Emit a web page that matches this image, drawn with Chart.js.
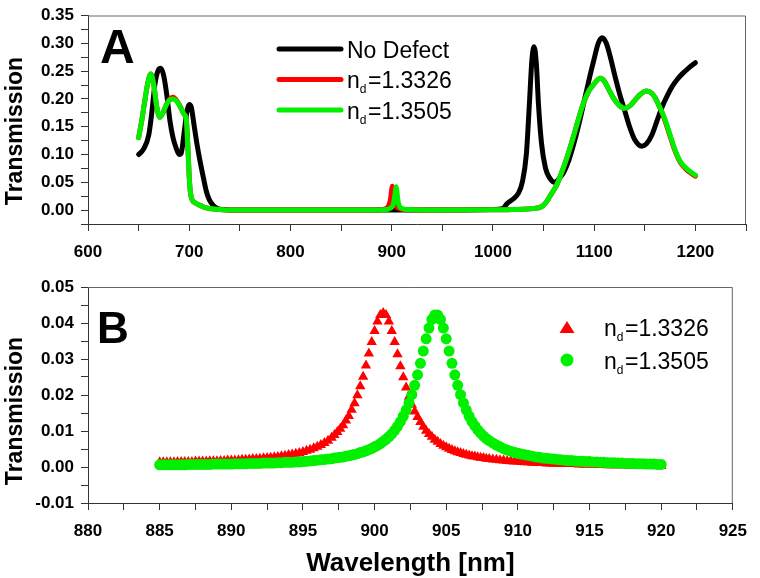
<!DOCTYPE html>
<html>
<head>
<meta charset="utf-8">
<script src="https://cdn.jsdelivr.net/npm/chart.js@4.4.1/dist/chart.umd.min.js"></script>
<style>
  body { margin: 0; background: #fff; }
  .panel { position: absolute; left: 0; width: 760px; }
  #wrapA { top: 0; height: 270px; }
  #wrapB { top: 270px; height: 308px; }
</style>
</head>
<body>
<div class="panel" id="wrapA"><canvas id="chartA"></canvas></div>
<div class="panel" id="wrapB"><canvas id="chartB"></canvas></div>
<script>
// ---- panel A: full spectra ----
const noDefectX = [650,655,660,663,666,669,672,675,678,681,684,687,690,692,695,698,700,702,705,708,711,714,717,720,724,728,735,745,800,900,950,1000,1010,1014,1020,1025,1029,1033,1036,1038.5,1040.7,1043,1045,1048,1052,1056,1061,1066,1070,1075,1080,1085,1090,1095,1100,1104,1108,1112,1116,1120,1125,1130,1135,1140,1147,1152,1157,1162,1167,1172,1177,1182,1187,1193,1200];
const noDefectY = [0.100,0.110,0.135,0.175,0.225,0.250,0.255,0.240,0.205,0.160,0.130,0.112,0.100,0.102,0.140,0.180,0.190,0.185,0.150,0.115,0.085,0.058,0.033,0.018,0.008,0.003,0.001,0,0,0,0,0.001,0.003,0.012,0.020,0.030,0.050,0.100,0.190,0.270,0.294,0.260,0.190,0.120,0.075,0.058,0.050,0.058,0.068,0.090,0.120,0.155,0.195,0.235,0.272,0.300,0.310,0.300,0.275,0.245,0.210,0.180,0.150,0.127,0.115,0.120,0.135,0.160,0.185,0.205,0.222,0.235,0.245,0.255,0.265];

const nd13326X = [650,653,656,659,662,665,668,671,674,677,680,684,688,692,695,697,698.5,700,701,702.5,706,710,715,720,730,740,800,880,890,896,898,899,899.8,900.6,901.3,902,903,904.5,906,909,915,930,1000,1020,1040,1048,1053,1058,1063,1070,1075,1080,1086,1090,1095,1099,1106,1110,1115,1119,1125,1130,1135,1140,1145,1152,1157,1160,1164,1169,1175,1180,1185,1190,1195,1200];
const nd13326Y = [0.130,0.160,0.195,0.228,0.245,0.225,0.185,0.167,0.175,0.188,0.198,0.203,0.196,0.183,0.172,0.165,0.120,0.060,0.035,0.020,0.013,0.009,0.005,0.003,0.001,0,0,0,0.001,0.005,0.013,0.022,0.034,0.043,0.036,0.025,0.014,0.007,0.004,0.002,0.0007,0,0.0005,0.001,0.003,0.006,0.015,0.030,0.045,0.078,0.105,0.135,0.173,0.195,0.215,0.225,0.237,0.232,0.215,0.202,0.188,0.183,0.187,0.197,0.207,0.214,0.210,0.203,0.188,0.166,0.133,0.106,0.086,0.075,0.067,0.061];

const nd13505X = [650,653,656,659,662,665,668,671,674,677,680,684,688,692,695,697,698.5,700,701,702.5,706,710,715,720,730,740,800,880,895,898,900,901,902,903,903.7,904.3,905,905.6,906.3,907,908,910,913,920,950,1000,1020,1040,1048,1053,1058,1063,1070,1075,1080,1086,1090,1095,1099,1106,1110,1115,1119,1125,1130,1135,1140,1145,1152,1157,1160,1164,1169,1175,1180,1185,1190,1195,1200];
const nd13505Y = [0.130,0.160,0.195,0.228,0.245,0.225,0.185,0.167,0.175,0.188,0.197,0.200,0.195,0.183,0.172,0.165,0.120,0.060,0.035,0.020,0.013,0.009,0.005,0.003,0.001,0,0,0,0.001,0.003,0.005,0.008,0.014,0.025,0.035,0.042,0.036,0.026,0.016,0.010,0.006,0.003,0.0015,0.0005,0,0.0005,0.001,0.003,0.006,0.015,0.030,0.045,0.078,0.105,0.135,0.173,0.195,0.215,0.225,0.237,0.232,0.215,0.202,0.188,0.183,0.187,0.197,0.207,0.214,0.210,0.203,0.188,0.168,0.135,0.108,0.088,0.077,0.069,0.063];

// ---- panel B: zoom on the defect mode ----
const wavelengthB = [
  885,885.25,885.5,885.75,886,886.25,886.5,886.75,887,887.25,887.5,887.75,888,888.25,888.5,888.75,
  889,889.25,889.5,889.75,890,890.25,890.5,890.75,891,891.25,891.5,891.75,892,892.25,892.5,892.75,
  893,893.25,893.5,893.75,894,894.25,894.5,894.75,895,895.25,895.5,895.75,896,896.25,896.5,896.75,897,
  897.2,897.4,897.6,897.8,898,898.2,898.4,898.6,898.8,899,899.2,899.4,899.6,899.8,
  900,900.2,900.4,900.6,900.8,901,901.2,901.4,901.6,901.8,
  902,902.2,902.4,902.6,902.8,903,903.2,903.4,903.6,903.8,
  904,904.2,904.4,904.6,904.8,905,905.2,905.4,905.6,905.8,
  906,906.2,906.4,906.6,906.8,907,907.2,907.4,907.6,907.8,908,
  908.25,908.5,908.75,909,909.25,909.5,909.75,910,910.25,910.5,910.75,911,911.25,911.5,911.75,
  912,912.25,912.5,912.75,913,913.25,913.5,913.75,914,914.25,914.5,914.75,915,915.25,915.5,915.75,
  916,916.25,916.5,916.75,917,917.25,917.5,917.75,918,918.25,918.5,918.75,919,919.25,919.5,919.75,920];
const transB13326 = [
  0.0013,0.0013,0.0013,0.0013,0.0013,0.0014,0.0014,0.0014,0.0014,0.0014,0.0015,0.0015,0.0015,0.0015,0.0016,0.0016,
  0.0016,0.0017,0.0017,0.0018,0.0018,0.0018,0.0019,0.0020,0.0020,0.0021,0.0022,0.0022,0.0023,0.0024,0.0025,0.0026,
  0.0027,0.0028,0.0030,0.0031,0.0033,0.0035,0.0037,0.0039,0.0042,0.0045,0.0048,0.0052,0.0056,0.0061,0.0067,0.0073,0.0081,
  0.0089,0.0097,0.0106,0.0116,0.0129,0.0142,0.0159,0.0177,0.0199,0.0224,0.0251,0.0282,0.0315,0.0347,
  0.0378,0.0404,0.0422,0.0428,0.0422,0.0404,0.0378,0.0347,0.0313,0.0280,
  0.0249,0.0221,0.0195,0.0173,0.0154,0.0139,0.0125,0.0112,0.0101,0.0092,
  0.0084,0.0076,0.0070,0.0064,0.0059,0.0055,0.0051,0.0047,0.0044,0.0041,
  0.0039,0.0036,0.0034,0.0032,0.0030,0.0029,0.0027,0.0026,0.0025,0.0023,0.0022,
  0.0021,0.0020,0.0019,0.0018,0.0017,0.0016,0.0015,0.0015,0.0014,0.0013,0.0013,0.0012,0.0012,0.0011,0.0011,
  0.0010,0.0010,0.0009,0.0009,0.0009,0.0008,0.0008,0.0008,0.0008,0.0007,0.0007,0.0007,0.0007,0.0006,0.0006,0.0006,
  0.0006,0.0005,0.0005,0.0005,0.0005,0.0005,0.0005,0.0004,0.0004,0.0004,0.0004,0.0004,0.0004,0.0003,0.0003,0.0003,0.0003];
const transB13505 = [
  0.0006,0.0006,0.0006,0.0006,0.0006,0.0006,0.0006,0.0006,0.0007,0.0007,0.0007,0.0007,0.0007,0.0007,0.0007,0.0008,
  0.0008,0.0008,0.0008,0.0008,0.0008,0.0009,0.0009,0.0009,0.0009,0.0010,0.0010,0.0010,0.0010,0.0011,0.0011,0.0011,
  0.0011,0.0012,0.0012,0.0013,0.0013,0.0013,0.0014,0.0014,0.0015,0.0016,0.0017,0.0018,0.0019,0.0020,0.0021,0.0022,0.0023,
  0.0025,0.0026,0.0027,0.0028,0.0030,0.0031,0.0033,0.0035,0.0037,0.0040,0.0042,0.0045,0.0048,0.0052,
  0.0056,0.0060,0.0065,0.0071,0.0077,0.0084,0.0092,0.0102,0.0113,0.0126,
  0.0141,0.0158,0.0178,0.0201,0.0227,0.0256,0.0288,0.0322,0.0356,0.0386,
  0.0410,0.0422,0.0422,0.0410,0.0386,0.0356,0.0322,0.0288,0.0256,0.0227,
  0.0201,0.0178,0.0158,0.0141,0.0126,0.0114,0.0103,0.0094,0.0086,0.0079,0.0073,
  0.0067,0.0061,0.0056,0.0051,0.0047,0.0044,0.0041,0.0038,0.0036,0.0034,0.0032,0.0030,0.0028,0.0027,0.0025,
  0.0024,0.0023,0.0022,0.0021,0.0020,0.0019,0.0018,0.0018,0.0017,0.0016,0.0016,0.0015,0.0015,0.0014,0.0014,0.0013,
  0.0013,0.0012,0.0012,0.0012,0.0011,0.0011,0.0010,0.0010,0.0010,0.0009,0.0009,0.0009,0.0008,0.0008,0.0008,0.0007,0.0007];

const FONT = 'Arial, "Liberation Sans", sans-serif';
const RED = '#ff0000';
const GREEN = '#00f000';

const pts = (xs, ys) => xs.map((x, i) => ({x: x, y: ys[i]}));
const isMajor = (v, step) => Math.abs(v / step - Math.round(v / step)) < 1e-6;

// draws "n_d=1.3326" with the d as subscript
function drawLabel(ctx, text, x, y) {
  ctx.font = '23px ' + FONT;
  const parts = text.split('_');
  ctx.fillText(parts[0], x, y);
  x += ctx.measureText(parts[0]).width;
  if (parts.length > 1) {
    ctx.font = '12px ' + FONT;
    const sub = parts[1].charAt(0);
    ctx.fillText(sub, x, y + 5);
    x += ctx.measureText(sub).width + 1.5;
    ctx.font = '23px ' + FONT;
    ctx.fillText(parts[1].slice(1), x, y);
  }
}

const decor = {
  id: 'decor',
  afterDraw(chart, args, o) {
    const ctx = chart.ctx;
    const a = chart.chartArea;
    ctx.save();
    // box: top and right edges
    ctx.strokeStyle = '#666';
    ctx.lineWidth = 1;
    ctx.beginPath();
    ctx.moveTo(a.left, a.top + 0.5);
    ctx.lineTo(a.right - 0.5, a.top + 0.5);
    ctx.lineTo(a.right - 0.5, a.bottom);
    ctx.stroke();

    ctx.fillStyle = '#000';
    ctx.textBaseline = 'alphabetic';
    ctx.textAlign = 'left';
    ctx.font = 'bold ' + o.letterSize + 'px ' + FONT;
    ctx.fillText(o.letter, o.letterX, o.letterY);

    // y title
    ctx.save();
    ctx.translate(16, o.yTitleY);
    ctx.rotate(-Math.PI / 2);
    ctx.textAlign = 'center';
    ctx.textBaseline = 'middle';
    ctx.font = 'bold 23px ' + FONT;
    ctx.fillText('Transmission', 0, 0);
    ctx.restore();

    // x title
    if (o.xTitle) {
      ctx.textAlign = 'center';
      ctx.font = 'bold 26px ' + FONT;
      ctx.fillText(o.xTitle, (a.left + a.right) / 2, o.xTitleY);
      ctx.textAlign = 'left';
    }

    // legend
    chart.data.datasets.forEach((ds, i) => {
      const y = o.legY + i * o.legGap;
      if (o.legSymbol) {
        ctx.fillStyle = ds.backgroundColor;
        ctx.beginPath();
        if (ds.pointStyle === 'triangle') {
          ctx.moveTo(o.legX, y - 6);
          ctx.lineTo(o.legX + 7.5, y + 6);
          ctx.lineTo(o.legX - 7.5, y + 6);
          ctx.closePath();
        } else {
          ctx.arc(o.legX, y, 6.5, 0, Math.PI * 2);
        }
        ctx.fill();
      } else {
        ctx.strokeStyle = ds.borderColor;
        ctx.lineWidth = 5;
        ctx.lineCap = 'round';
        ctx.beginPath();
        ctx.moveTo(o.legX, y);
        ctx.lineTo(o.legX + 62, y);
        ctx.stroke();
      }
      ctx.fillStyle = '#000';
      drawLabel(ctx, ds.label, o.textX, y + o.textDy);
    });
    ctx.restore();
  }
};

function axisOpts(min, max, step, major, fmt, isY, width) {
  return {
    type: 'linear',
    min: min,
    max: max,
    afterFit(scale) {
      if (isY) scale.width = 88; else scale.height = width;
    },
    ticks: {
      stepSize: step,
      autoSkip: false,
      maxRotation: 0,
      padding: isY ? 7 : 13,
      color: '#000',
      font: {family: FONT, size: 17, weight: 'bold', lineHeight: 1},
      callback: v => isMajor(v, major) ? fmt(v) : ''
    },
    grid: {drawOnChartArea: false, drawTicks: true, tickLength: 7, tickColor: '#333', tickWidth: 1},
    border: {display: true, color: '#333', width: 1}
  };
}

const lineStyle = {pointRadius: 0, borderWidth: 5, cubicInterpolationMode: 'monotone', borderCapStyle: 'round', borderJoinStyle: 'round', fill: false};

new Chart(document.getElementById('chartA'), {
  type: 'line',
  data: {
    datasets: [
      Object.assign({label: 'No Defect', data: pts(noDefectX, noDefectY), borderColor: '#000', backgroundColor: '#000', order: 2}, lineStyle),
      Object.assign({label: 'n_d=1.3326', data: pts(nd13326X, nd13326Y), borderColor: RED, backgroundColor: RED, order: 1}, lineStyle),
      Object.assign({label: 'n_d=1.3505', data: pts(nd13505X, nd13505Y), borderColor: GREEN, backgroundColor: GREEN, order: 0}, lineStyle)
    ]
  },
  options: {
    responsive: true,
    maintainAspectRatio: false,
    animation: false,
    events: [],
    layout: {padding: {top: 8, right: 14, left: 0, bottom: 0}},
    scales: {
      x: axisOpts(600, 1250, 50, 100, v => String(v), false, 46),
      y: axisOpts(-0.025, 0.35, 0.025, 0.05, v => v.toFixed(2), true)
    },
    plugins: {
      legend: {display: false},
      tooltip: {enabled: false},
      decor: {letter: 'A', letterSize: 48, letterX: 100, letterY: 63, yTitleY: 131,
        legX: 279, legY: 49, legGap: 30.5, textX: 347, textDy: 8.5, legSymbol: false}
    }
  },
  plugins: [decor]
});

new Chart(document.getElementById('chartB'), {
  type: 'scatter',
  data: {
    datasets: [
      {label: 'n_d=1.3326', data: pts(wavelengthB, transB13326), pointStyle: 'triangle', pointRadius: 6,
        backgroundColor: RED, borderColor: RED, borderWidth: 0, order: 1},
      {label: 'n_d=1.3505', data: pts(wavelengthB, transB13505), pointStyle: 'circle', pointRadius: 5.5,
        backgroundColor: GREEN, borderColor: GREEN, borderWidth: 0, order: 0}
    ]
  },
  options: {
    responsive: true,
    maintainAspectRatio: false,
    animation: false,
    events: [],
    layout: {padding: {top: 17, right: 14, left: 0, bottom: 0}},
    scales: {
      x: axisOpts(880, 925, 2.5, 5, v => String(v), false, 75),
      y: axisOpts(-0.01, 0.05, 0.005, 0.01, v => v.toFixed(2), true)
    },
    plugins: {
      legend: {display: false},
      tooltip: {enabled: false},
      decor: {letter: 'B', letterSize: 44, letterX: 97, letterY: 73, yTitleY: 141,
        xTitle: 'Wavelength [nm]', xTitleY: 301,
        legX: 567, legY: 57, legGap: 33, textX: 604, textDy: 9, legSymbol: true}
    }
  },
  plugins: [decor]
});
</script>
</body>
</html>
